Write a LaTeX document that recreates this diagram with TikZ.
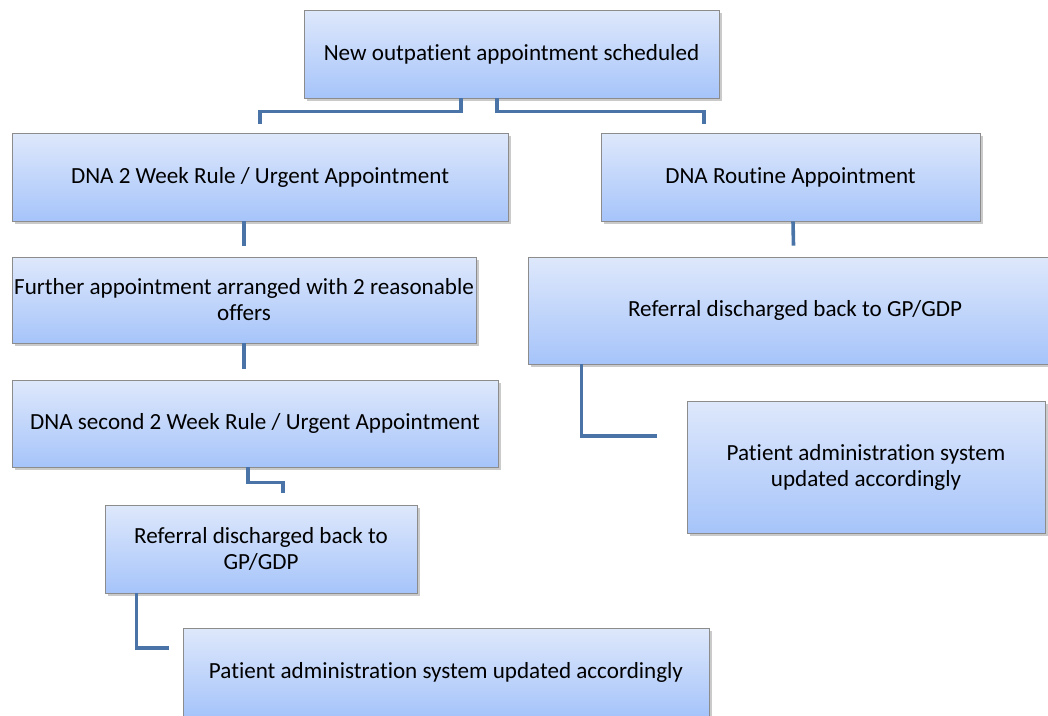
\documentclass[tikz,border=0pt]{standalone}
\usepackage{fontspec}
\setmainfont{Carlito}[Ligatures={NoCommon,NoRequired,NoContextual},RawFeature={-calt;-liga;-dlig}]
\usetikzlibrary{shadows}
\definecolor{boxtop}{HTML}{DEE8FB}
\definecolor{boxbot}{HTML}{A6C4FA}
\definecolor{boxedge}{HTML}{8C8C8C}
\definecolor{linkcol}{HTML}{4A74A8}
\tikzset{
  box/.style={draw=boxedge, line width=0.9pt, top color=boxtop, bottom color=boxbot,
    inner sep=0pt, align=center, font=\fontsize{23.1}{26}\selectfont,
    drop shadow={shadow xshift=2.5pt, shadow yshift=-2.5pt, opacity=0.35, fill=black!60}},
  link/.style={draw=linkcol, line width=3.6pt}
}
\begin{document}
\begin{tikzpicture}[x=1pt,y=-1pt]
\useasboundingbox (0,0) rectangle (1048,715);
\clip (0,0) rectangle (1048,715);
\node[box, minimum width=415pt, minimum height=88pt] (top) at (511.5,54) {New outpatient appointment scheduled};
\node[box, minimum width=496pt, minimum height=88pt] (dna2) at (260,177) {DNA 2 Week Rule / Urgent Appointment};
\node[box, minimum width=379pt, minimum height=88pt] (routine) at (790.5,177) {DNA Routine Appointment};
\node[box, minimum width=464pt, minimum height=86pt] (further) at (244,300) {Further appointment arranged with 2 reasonable\\offers};
\node[box, minimum width=534pt, minimum height=107pt] (refR) at (795,310.5) {Referral discharged back to GP/GDP};
\node[box, minimum width=486pt, minimum height=87pt] (dna2nd) at (255,423.5) {DNA second 2 Week Rule / Urgent Appointment};
\node[box, minimum width=312pt, minimum height=88pt] (refL) at (261,549) {Referral discharged back to\\GP/GDP};
\node[box, minimum width=358pt, minimum height=132pt] (patR) at (866,467) {Patient administration system\\updated accordingly};
\node[box, minimum width=526pt, minimum height=88pt] (patB) at (446,672) {Patient administration system updated accordingly};

\draw[link] ([xshift=-50.5pt]top.south) -- ++(0,13) -| ([yshift=9pt]dna2.north);
\draw[link] ([xshift=-14.5pt]top.south) -- ++(0,13) -| ([xshift=-86.5pt,yshift=9pt]routine.north);
\draw[link] (further.north |- dna2.south) -- ([yshift=11pt]further.north);
\draw[link] (further.south) -- ([yshift=11pt]further.south |- dna2nd.north);
\draw[link] ([xshift=2.5pt]routine.south) -- ([xshift=-1.5pt,yshift=11pt]refR.north);
\draw[link] ([xshift=54pt]refR.south west) |- ([xshift=-30pt,yshift=31pt]patR.west);
\draw[link] ([xshift=-7pt]dna2nd.south) -- ++(0,15) -| ([xshift=22pt,yshift=12pt]refL.north);
\draw[link] ([xshift=32pt]refL.south west) |- ([xshift=-14pt,yshift=24pt]patB.west);
\end{tikzpicture}
\end{document}
